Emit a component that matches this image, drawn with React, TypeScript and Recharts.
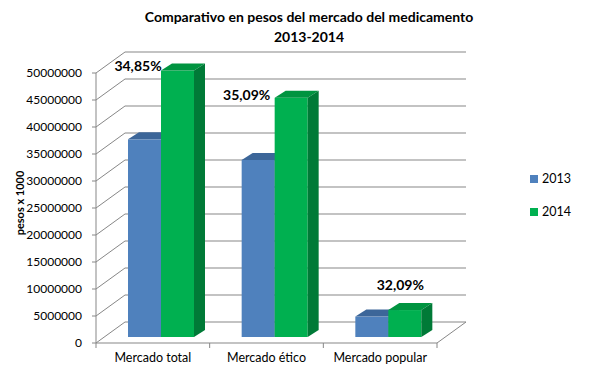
import { BarChart, Bar, XAxis, YAxis, CartesianGrid, LabelList } from "recharts";

const categories = ["Mercado total", "Mercado ético", "Mercado popular"];
const values2013 = [36600000, 32800000, 3780000];
const values2014 = [49350000, 44310000, 4990000];
const growthLabels = ["34,85%", "35,09%", "32,09%"];
const yTicks = [0, 5000000, 10000000, 15000000, 20000000, 25000000, 30000000, 35000000, 40000000, 45000000, 50000000];

const data = categories.map((name, i) => ({ name, y2013: values2013[i], y2014: values2014[i] }));

const FONT = "Lato, 'Open Sans', sans-serif";
const GRID = "#878787";
// wall depth and bar placement inside it
const WALL = { dx: 29, dy: -21 };
const BAR_SHIFT = { dx: 8, dy: -6 };
const BAR_DEPTH = { dx: 11, dy: -7 };
const LABEL_OFFSETS = [
  { dx: -23, dy: -5 },
  { dx: -28, dy: -3 },
  { dx: 12, dy: -26 },
];

const SERIES = {
  y2013: { front: "#4F81BD", top: "#3C6699", side: "#35598A" },
  y2014: { front: "#00B050", top: "#009440", side: "#007A37" },
};

function bar3d(c: { front: string; top: string; side: string }) {
  return (p: any) => {
    const { x, y, width: w, height: h } = p;
    if (w == null || h == null) return <g />;
    const x0 = x + BAR_SHIFT.dx;
    const y0 = y + BAR_SHIFT.dy;
    const { dx, dy } = BAR_DEPTH;
    return (
      <g>
        <rect x={x0} y={y0} width={w} height={h} fill={c.front} />
        <polygon points={`${x0},${y0} ${x0 + dx},${y0 + dy} ${x0 + w + dx},${y0 + dy} ${x0 + w},${y0}`} fill={c.top} />
        <polygon points={`${x0 + w},${y0} ${x0 + w + dx},${y0 + dy} ${x0 + w + dx},${y0 + h + dy} ${x0 + w},${y0 + h}`} fill={c.side} />
      </g>
    );
  };
}

function WallLine(p: any) {
  const { x1, x2, y1, y, height } = p;
  const isFloor = y != null && height != null ? y1 >= y + height - 0.5 : false;
  const bx1 = x1 + WALL.dx;
  const bx2 = x2 + WALL.dx;
  const by = y1 + WALL.dy;
  return (
    <g>
      <polyline points={`${x1},${y1} ${bx1},${by} ${bx2},${by}`} fill="none" stroke={GRID} strokeWidth={1} />
      {isFloor && <line x1={x2} y1={y1} x2={bx2} y2={by} stroke={GRID} strokeWidth={1} />}
    </g>
  );
}

function CategoryTick(p: any) {
  const { x, y, payload, index, width, visibleTicksCount } = p;
  const half = (width ?? 341) / (visibleTicksCount ?? categories.length) / 2;
  const axisY = y - 8;
  return (
    <g>
      <line x1={x - half} y1={axisY} x2={x - half} y2={axisY + 5} stroke={GRID} />
      {index === categories.length - 1 && (
        <line x1={x + half} y1={axisY} x2={x + half} y2={axisY + 5} stroke={GRID} />
      )}
      <text x={x} y={y + 2} dy="0.71em" textAnchor="middle" fontSize={12.5} fontFamily={FONT} fill="#000">
        {payload.value}
      </text>
    </g>
  );
}

function GrowthLabel(p: any) {
  const { x, y, index } = p;
  const off = LABEL_OFFSETS[index] ?? { dx: 0, dy: -10 };
  return (
    <text
      x={x + BAR_SHIFT.dx + off.dx}
      y={y + BAR_SHIFT.dy + off.dy}
      textAnchor="middle"
      dominantBaseline="central"
      fontSize={14}
      fontWeight="bold"
      fontFamily={FONT}
      fill="#000"
    >
      {growthLabels[index]}
    </text>
  );
}

export default function App() {
  return (
    <div style={{ position: "relative", width: 611, height: 392, background: "#fff", fontFamily: FONT }}>
      <style>{"body{margin:0}"}</style>
      <div
        style={{
          position: "absolute",
          left: 109,
          top: 7,
          width: 400,
          textAlign: "center",
          fontWeight: "bold",
          fontSize: 14,
          lineHeight: "20px",
          color: "#000",
        }}
      >
        Comparativo en pesos del mercado del medicamento
        <br />
        2013-2014
      </div>
      <div
        style={{
          position: "absolute",
          left: 19,
          top: 203,
          transform: "translate(-50%, -50%) rotate(-90deg)",
          whiteSpace: "nowrap",
          fontWeight: "bold",
          fontSize: 11,
          color: "#000",
        }}
      >
        pesos x 1000
      </div>
      <BarChart
        width={611}
        height={392}
        data={data}
        margin={{ top: 73, right: 174, bottom: 19, left: 0 }}
        barCategoryGap={24}
        barGap={0}
      >
        <CartesianGrid vertical={false} horizontal={(p: any) => <WallLine key={p.key} {...p} />} />
        <XAxis
          dataKey="name"
          height={30}
          axisLine={{ stroke: GRID }}
          tickLine={false}
          tickSize={5}
          tickMargin={3}
          tick={<CategoryTick />}
          interval={0}
        />
        <YAxis
          width={96}
          domain={[0, 50000000]}
          ticks={yTicks}
          interval={0}
          axisLine={{ stroke: GRID }}
          tickLine={{ stroke: GRID }}
          tickSize={4}
          tickMargin={10}
          tick={{ fill: "#000", fontSize: 12, fontFamily: FONT }}
        />
        <Bar dataKey="y2013" fill={SERIES.y2013.front} shape={bar3d(SERIES.y2013)} isAnimationActive={false} />
        <Bar dataKey="y2014" fill={SERIES.y2014.front} shape={bar3d(SERIES.y2014)} isAnimationActive={false}>
          <LabelList dataKey="y2014" content={<GrowthLabel />} />
        </Bar>
      </BarChart>
      {[
        { name: "2013", color: SERIES.y2013.front, top: 175 },
        { name: "2014", color: SERIES.y2014.front, top: 208 },
      ].map((l) => (
        <div key={l.name} style={{ position: "absolute", left: 530, top: l.top, display: "flex", alignItems: "center" }}>
          <div style={{ width: 8, height: 8, background: l.color }} />
          <span style={{ marginLeft: 4, fontSize: 12.5, lineHeight: "8px", color: "#000" }}>{l.name}</span>
        </div>
      ))}
    </div>
  );
}
